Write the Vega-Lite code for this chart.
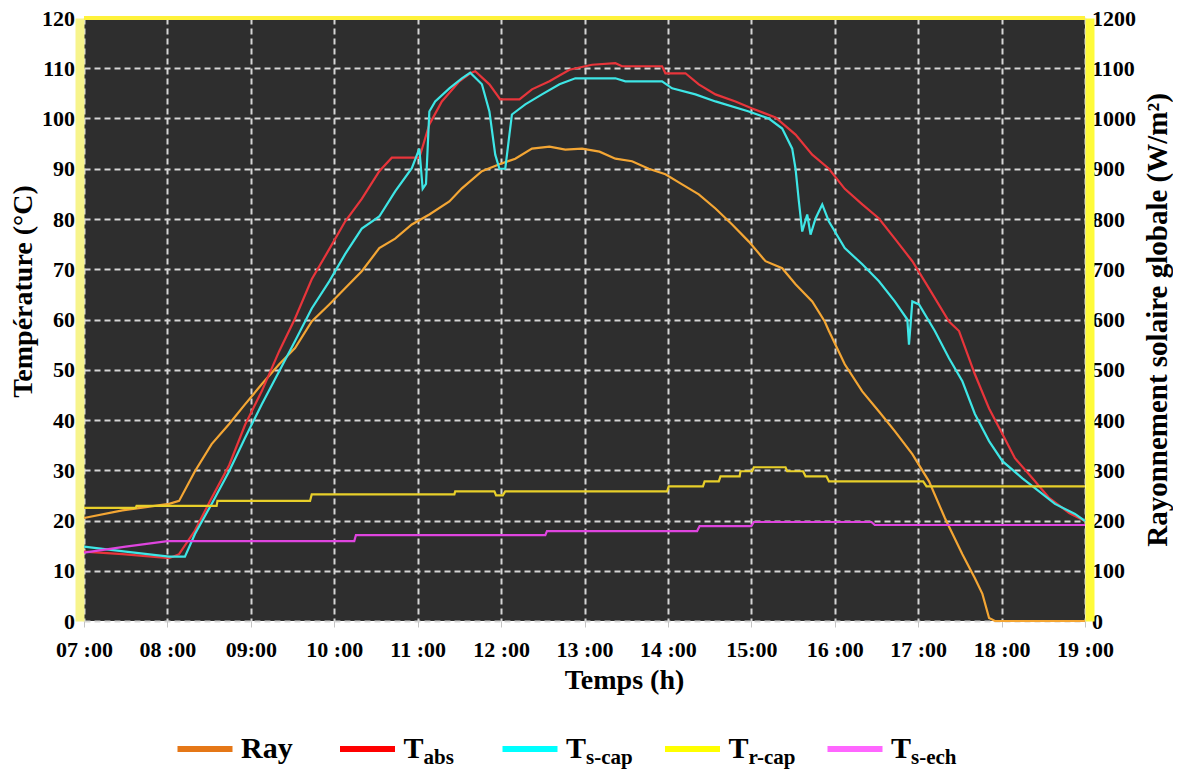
{
  "$schema": "https://vega.github.io/schema/vega-lite/v6.json",
  "background": "white",
  "padding": {"left": 9, "top": 7, "right": 0, "bottom": 0},
  "config": {"font": "Liberation Serif", "view": {"stroke": null}, "concat": {"spacing": 30}},
  "datasets": {
    "ray": [
      {"t": 7.00, "ray": 205}, {"t": 7.46, "ray": 220}, {"t": 8.02, "ray": 233}, {"t": 8.14, "ray": 239},
      {"t": 8.33, "ray": 298}, {"t": 8.53, "ray": 352}, {"t": 8.74, "ray": 392}, {"t": 8.93, "ray": 431},
      {"t": 9.13, "ray": 471}, {"t": 9.34, "ray": 511}, {"t": 9.53, "ray": 543}, {"t": 9.73, "ray": 596},
      {"t": 9.94, "ray": 630}, {"t": 10.13, "ray": 662}, {"t": 10.33, "ray": 696}, {"t": 10.54, "ray": 742},
      {"t": 10.73, "ray": 761}, {"t": 10.93, "ray": 789}, {"t": 11.14, "ray": 809}, {"t": 11.38, "ray": 835},
      {"t": 11.53, "ray": 861}, {"t": 11.77, "ray": 895}, {"t": 11.98, "ray": 909}, {"t": 12.17, "ray": 920},
      {"t": 12.37, "ray": 940}, {"t": 12.58, "ray": 944}, {"t": 12.77, "ray": 938}, {"t": 12.97, "ray": 940},
      {"t": 13.18, "ray": 934}, {"t": 13.37, "ray": 920}, {"t": 13.57, "ray": 915}, {"t": 13.77, "ray": 900},
      {"t": 13.97, "ray": 889}, {"t": 14.17, "ray": 869}, {"t": 14.37, "ray": 849}, {"t": 14.57, "ray": 821},
      {"t": 14.77, "ray": 789}, {"t": 14.97, "ray": 755}, {"t": 15.17, "ray": 716}, {"t": 15.37, "ray": 702},
      {"t": 15.53, "ray": 670}, {"t": 15.73, "ray": 636}, {"t": 15.88, "ray": 596}, {"t": 15.93, "ray": 577},
      {"t": 16.12, "ray": 511}, {"t": 16.33, "ray": 457}, {"t": 16.53, "ray": 417}, {"t": 16.72, "ray": 378},
      {"t": 16.93, "ray": 332}, {"t": 17.13, "ray": 278}, {"t": 17.32, "ray": 205}, {"t": 17.53, "ray": 133},
      {"t": 17.68, "ray": 85}, {"t": 17.77, "ray": 54}, {"t": 17.85, "ray": 6}, {"t": 17.92, "ray": 0},
      {"t": 19.00, "ray": 0}
    ],
    "temps": [
      {"t": 7.00, "s": "Tabs", "v": 13.8}, {"t": 7.46, "s": "Tabs", "v": 13.3}, {"t": 8.02, "s": "Tabs", "v": 12.5},
      {"t": 8.14, "s": "Tabs", "v": 13.3}, {"t": 8.33, "s": "Tabs", "v": 18}, {"t": 8.53, "s": "Tabs", "v": 24.5},
      {"t": 8.74, "s": "Tabs", "v": 31}, {"t": 8.93, "s": "Tabs", "v": 39}, {"t": 9.13, "s": "Tabs", "v": 45.7},
      {"t": 9.34, "s": "Tabs", "v": 53.7}, {"t": 9.53, "s": "Tabs", "v": 60.2}, {"t": 9.73, "s": "Tabs", "v": 68},
      {"t": 9.94, "s": "Tabs", "v": 74}, {"t": 10.13, "s": "Tabs", "v": 79.5}, {"t": 10.33, "s": "Tabs", "v": 84},
      {"t": 10.54, "s": "Tabs", "v": 89.5}, {"t": 10.69, "s": "Tabs", "v": 92.2}, {"t": 11.02, "s": "Tabs", "v": 92.2},
      {"t": 11.14, "s": "Tabs", "v": 98.8}, {"t": 11.29, "s": "Tabs", "v": 103.4}, {"t": 11.50, "s": "Tabs", "v": 107.4},
      {"t": 11.63, "s": "Tabs", "v": 109}, {"t": 11.69, "s": "Tabs", "v": 109.4}, {"t": 11.86, "s": "Tabs", "v": 106.8},
      {"t": 11.99, "s": "Tabs", "v": 103.8}, {"t": 12.22, "s": "Tabs", "v": 103.8}, {"t": 12.37, "s": "Tabs", "v": 105.8},
      {"t": 12.58, "s": "Tabs", "v": 107.4}, {"t": 12.82, "s": "Tabs", "v": 109.7}, {"t": 13.09, "s": "Tabs", "v": 110.7},
      {"t": 13.37, "s": "Tabs", "v": 111}, {"t": 13.45, "s": "Tabs", "v": 110.4}, {"t": 13.93, "s": "Tabs", "v": 110.4},
      {"t": 13.97, "s": "Tabs", "v": 109}, {"t": 14.21, "s": "Tabs", "v": 109}, {"t": 14.37, "s": "Tabs", "v": 106.8},
      {"t": 14.57, "s": "Tabs", "v": 104.8}, {"t": 14.81, "s": "Tabs", "v": 103.4}, {"t": 15.01, "s": "Tabs", "v": 102},
      {"t": 15.29, "s": "Tabs", "v": 100.2}, {"t": 15.53, "s": "Tabs", "v": 96.8}, {"t": 15.73, "s": "Tabs", "v": 92.8},
      {"t": 15.93, "s": "Tabs", "v": 90}, {"t": 16.12, "s": "Tabs", "v": 86}, {"t": 16.33, "s": "Tabs", "v": 82.9},
      {"t": 16.53, "s": "Tabs", "v": 80.1}, {"t": 16.72, "s": "Tabs", "v": 76.1}, {"t": 16.93, "s": "Tabs", "v": 71.6},
      {"t": 17.13, "s": "Tabs", "v": 66.2}, {"t": 17.37, "s": "Tabs", "v": 59.6}, {"t": 17.49, "s": "Tabs", "v": 57.7},
      {"t": 17.68, "s": "Tabs", "v": 49.1}, {"t": 17.85, "s": "Tabs", "v": 42.3}, {"t": 18.01, "s": "Tabs", "v": 37.2},
      {"t": 18.16, "s": "Tabs", "v": 32.4}, {"t": 18.37, "s": "Tabs", "v": 28.4}, {"t": 18.57, "s": "Tabs", "v": 24.5},
      {"t": 18.81, "s": "Tabs", "v": 21.5}, {"t": 19.00, "s": "Tabs", "v": 19.9},

      {"t": 7.00, "s": "Ts-cap", "v": 14.8}, {"t": 7.50, "s": "Ts-cap", "v": 13.8}, {"t": 8.02, "s": "Ts-cap", "v": 12.8},
      {"t": 8.21, "s": "Ts-cap", "v": 12.8}, {"t": 8.33, "s": "Ts-cap", "v": 17.3}, {"t": 8.53, "s": "Ts-cap", "v": 23.3},
      {"t": 8.74, "s": "Ts-cap", "v": 29.8}, {"t": 8.93, "s": "Ts-cap", "v": 36.4}, {"t": 9.13, "s": "Ts-cap", "v": 43.1},
      {"t": 9.34, "s": "Ts-cap", "v": 49.7}, {"t": 9.53, "s": "Ts-cap", "v": 55.7}, {"t": 9.73, "s": "Ts-cap", "v": 62.2},
      {"t": 9.94, "s": "Ts-cap", "v": 67.6}, {"t": 10.13, "s": "Ts-cap", "v": 73}, {"t": 10.33, "s": "Ts-cap", "v": 78.1},
      {"t": 10.54, "s": "Ts-cap", "v": 80.5}, {"t": 10.73, "s": "Ts-cap", "v": 85.5}, {"t": 10.93, "s": "Ts-cap", "v": 90.1},
      {"t": 11.02, "s": "Ts-cap", "v": 94}, {"t": 11.06, "s": "Ts-cap", "v": 86}, {"t": 11.10, "s": "Ts-cap", "v": 87},
      {"t": 11.14, "s": "Ts-cap", "v": 101.4}, {"t": 11.21, "s": "Ts-cap", "v": 103.4}, {"t": 11.38, "s": "Ts-cap", "v": 106},
      {"t": 11.53, "s": "Ts-cap", "v": 108}, {"t": 11.63, "s": "Ts-cap", "v": 109.1}, {"t": 11.77, "s": "Ts-cap", "v": 106.8},
      {"t": 11.86, "s": "Ts-cap", "v": 101.4}, {"t": 11.93, "s": "Ts-cap", "v": 92.8}, {"t": 11.98, "s": "Ts-cap", "v": 90},
      {"t": 12.05, "s": "Ts-cap", "v": 90}, {"t": 12.10, "s": "Ts-cap", "v": 96.8}, {"t": 12.13, "s": "Ts-cap", "v": 100.8},
      {"t": 12.29, "s": "Ts-cap", "v": 102.8}, {"t": 12.49, "s": "Ts-cap", "v": 104.8}, {"t": 12.70, "s": "Ts-cap", "v": 106.8},
      {"t": 12.89, "s": "Ts-cap", "v": 108}, {"t": 13.37, "s": "Ts-cap", "v": 108}, {"t": 13.49, "s": "Ts-cap", "v": 107.4},
      {"t": 13.93, "s": "Ts-cap", "v": 107.4}, {"t": 14.05, "s": "Ts-cap", "v": 106}, {"t": 14.33, "s": "Ts-cap", "v": 104.8},
      {"t": 14.57, "s": "Ts-cap", "v": 103.4}, {"t": 14.97, "s": "Ts-cap", "v": 101.4}, {"t": 15.21, "s": "Ts-cap", "v": 100},
      {"t": 15.37, "s": "Ts-cap", "v": 98}, {"t": 15.49, "s": "Ts-cap", "v": 94}, {"t": 15.53, "s": "Ts-cap", "v": 90},
      {"t": 15.57, "s": "Ts-cap", "v": 83.5}, {"t": 15.61, "s": "Ts-cap", "v": 77.5}, {"t": 15.67, "s": "Ts-cap", "v": 80.9},
      {"t": 15.71, "s": "Ts-cap", "v": 76.9}, {"t": 15.77, "s": "Ts-cap", "v": 80.1}, {"t": 15.85, "s": "Ts-cap", "v": 82.9},
      {"t": 15.93, "s": "Ts-cap", "v": 79.5}, {"t": 16.12, "s": "Ts-cap", "v": 74.2}, {"t": 16.33, "s": "Ts-cap", "v": 71},
      {"t": 16.53, "s": "Ts-cap", "v": 67.6}, {"t": 16.72, "s": "Ts-cap", "v": 63.6}, {"t": 16.87, "s": "Ts-cap", "v": 60},
      {"t": 16.89, "s": "Ts-cap", "v": 55}, {"t": 16.93, "s": "Ts-cap", "v": 63.6}, {"t": 17.01, "s": "Ts-cap", "v": 63},
      {"t": 17.20, "s": "Ts-cap", "v": 57.7}, {"t": 17.37, "s": "Ts-cap", "v": 52.3}, {"t": 17.53, "s": "Ts-cap", "v": 47.7},
      {"t": 17.68, "s": "Ts-cap", "v": 41.2}, {"t": 17.85, "s": "Ts-cap", "v": 35.8}, {"t": 18.01, "s": "Ts-cap", "v": 31.8},
      {"t": 18.25, "s": "Ts-cap", "v": 28.4}, {"t": 18.45, "s": "Ts-cap", "v": 25.8}, {"t": 18.64, "s": "Ts-cap", "v": 23.3},
      {"t": 18.88, "s": "Ts-cap", "v": 21.3}, {"t": 19.00, "s": "Ts-cap", "v": 19.9},

      {"t": 7.00, "s": "Tr-cap", "v": 22.5}, {"t": 7.62, "s": "Tr-cap", "v": 22.5}, {"t": 7.63, "s": "Tr-cap", "v": 22.9},
      {"t": 8.59, "s": "Tr-cap", "v": 22.9}, {"t": 8.60, "s": "Tr-cap", "v": 23.9}, {"t": 9.71, "s": "Tr-cap", "v": 23.9},
      {"t": 9.73, "s": "Tr-cap", "v": 25.2}, {"t": 11.44, "s": "Tr-cap", "v": 25.2}, {"t": 11.45, "s": "Tr-cap", "v": 25.8},
      {"t": 11.92, "s": "Tr-cap", "v": 25.8}, {"t": 11.94, "s": "Tr-cap", "v": 25.0}, {"t": 12.02, "s": "Tr-cap", "v": 25.0},
      {"t": 12.05, "s": "Tr-cap", "v": 25.8}, {"t": 13.99, "s": "Tr-cap", "v": 25.8}, {"t": 14.01, "s": "Tr-cap", "v": 26.8},
      {"t": 14.42, "s": "Tr-cap", "v": 26.8}, {"t": 14.44, "s": "Tr-cap", "v": 27.8}, {"t": 14.61, "s": "Tr-cap", "v": 27.8},
      {"t": 14.63, "s": "Tr-cap", "v": 28.8}, {"t": 14.86, "s": "Tr-cap", "v": 28.8}, {"t": 14.87, "s": "Tr-cap", "v": 29.8},
      {"t": 15.01, "s": "Tr-cap", "v": 29.8}, {"t": 15.03, "s": "Tr-cap", "v": 30.6}, {"t": 15.41, "s": "Tr-cap", "v": 30.6},
      {"t": 15.43, "s": "Tr-cap", "v": 29.8}, {"t": 15.62, "s": "Tr-cap", "v": 29.8}, {"t": 15.65, "s": "Tr-cap", "v": 28.8},
      {"t": 15.90, "s": "Tr-cap", "v": 28.8}, {"t": 15.93, "s": "Tr-cap", "v": 27.8}, {"t": 17.06, "s": "Tr-cap", "v": 27.8},
      {"t": 17.10, "s": "Tr-cap", "v": 26.8}, {"t": 19.00, "s": "Tr-cap", "v": 26.8},

      {"t": 7.00, "s": "Ts-ech", "v": 13.6}, {"t": 7.50, "s": "Ts-ech", "v": 14.8}, {"t": 8.00, "s": "Ts-ech", "v": 15.9},
      {"t": 10.24, "s": "Ts-ech", "v": 15.9}, {"t": 10.26, "s": "Ts-ech", "v": 17.1}, {"t": 12.53, "s": "Ts-ech", "v": 17.1},
      {"t": 12.55, "s": "Ts-ech", "v": 17.9}, {"t": 14.35, "s": "Ts-ech", "v": 17.9}, {"t": 14.38, "s": "Ts-ech", "v": 18.9},
      {"t": 15.00, "s": "Ts-ech", "v": 18.9}, {"t": 15.03, "s": "Ts-ech", "v": 19.7}, {"t": 16.44, "s": "Ts-ech", "v": 19.7},
      {"t": 16.48, "s": "Ts-ech", "v": 19.1}, {"t": 19.00, "s": "Ts-ech", "v": 19.1}
    ],
    "legend": [
      {"item": "Ray", "main": "Ray", "sub": ""},
      {"item": "Tabs", "main": "T", "sub": "abs"},
      {"item": "Ts-cap", "main": "T", "sub": "s-cap"},
      {"item": "Tr-cap", "main": "T", "sub": "r-cap"},
      {"item": "Ts-ech", "main": "T", "sub": "s-ech"}
    ]
  },
  "resolve": {"scale": {"color": "independent", "x": "independent", "y": "independent"}},
  "vconcat": [
    {
      "width": 1001,
      "height": 603,
      "view": {"fill": "#2e2e2e", "stroke": null},
      "resolve": {"scale": {"y": "independent"}},
      "layer": [
        {
          "data": {"name": "ray"},
          "mark": {"type": "line", "color": "#f4a634", "strokeWidth": 2.2},
          "encoding": {
            "x": {
              "field": "t", "type": "quantitative",
              "scale": {"domain": [7, 19], "nice": false, "zero": false},
              "axis": {
                "values": [7, 8, 9, 10, 11, 12, 13, 14, 15, 16, 17, 18, 19],
                "labelExpr": "['07 :00','08 :00','09:00','10 :00','11 :00','12 :00','13 :00','14 :00','15:00','16 :00','17 :00','18 :00','19 :00'][round(datum.value) - 7]",
                "grid": true, "gridColor": "#d6d6d6", "gridDash": [6, 4], "gridWidth": 2,
                "domain": false,
                "ticks": true, "tickColor": "#c4c4c4", "tickSize": 6, "tickWidth": 1,
                "labelFont": "Liberation Serif", "labelFontWeight": "bold", "labelFontSize": 22, "labelColor": "#000",
                "labelPadding": 12, "labelOverlap": false, "labelFlush": false,
                "title": "Temps (h)", "titleFont": "Liberation Serif", "titleFontWeight": "bold", "titleFontSize": 28,
                "titleColor": "#000", "titlePadding": 6, "titleX": 540
              }
            },
            "y": {
              "field": "ray", "type": "quantitative",
              "scale": {"domain": [0, 1200], "nice": false},
              "axis": {
                "orient": "right",
                "values": [0, 100, 200, 300, 400, 500, 600, 700, 800, 900, 1000, 1100, 1200],
                "format": "d",
                "grid": false, "ticks": false,
                "domain": true, "domainColor": "#fffb3a", "domainWidth": 9, "offset": 4.5,
                "labelFont": "Liberation Serif", "labelFontWeight": "bold", "labelFontSize": 22, "labelColor": "#000",
                "labelPadding": 2, "labelOverlap": false,
                "title": "Rayonnement  solaire globale (W/m²)", "titleAngle": 270, "titleBaseline": "top",
                "titleFont": "Liberation Serif", "titleFontWeight": "bold", "titleFontSize": 29, "titleColor": "#000",
                "titlePadding": 8
              }
            }
          }
        },
        {
          "data": {"name": "temps"},
          "layer": [
            {
              "mark": {"type": "line", "strokeWidth": 2.2},
              "encoding": {
                "x": {"field": "t", "type": "quantitative"},
                "y": {
                  "field": "v", "type": "quantitative",
                  "scale": {"domain": [0, 120], "nice": false},
                  "axis": {
                    "orient": "left",
                    "values": [0, 10, 20, 30, 40, 50, 60, 70, 80, 90, 100, 110, 120],
                    "grid": true, "gridColor": "#d6d6d6", "gridDash": [6, 4], "gridWidth": 2,
                    "ticks": false,
                    "domain": true, "domainColor": "#f7f48c", "domainWidth": 9, "offset": 4.5,
                    "labelFont": "Liberation Serif", "labelFontWeight": "bold", "labelFontSize": 22, "labelColor": "#000",
                    "labelPadding": 5, "labelOverlap": false,
                    "title": "Température (°C)", "titleFont": "Liberation Serif", "titleFontWeight": "bold",
                    "titleFontSize": 28, "titleColor": "#000", "titlePadding": 4, "titleY": 273
                  }
                },
                "color": {
                  "field": "s", "type": "nominal",
                  "scale": {"domain": ["Tabs", "Ts-cap", "Tr-cap", "Ts-ech"], "range": ["#e8353b", "#3ee6e6", "#e8cf2a", "#df45df"]},
                  "legend": null
                }
              }
            },
            {
              "mark": {"type": "rule", "color": "#fff23a", "strokeWidth": 4},
              "encoding": {"y": {"datum": 120, "type": "quantitative"}}
            }
          ]
        }
      ]
    },
    {
      "width": 1000,
      "height": 50,
      "view": {"stroke": null, "fill": null},
      "data": {"name": "legend"},
      "encoding": {
        "x": {
          "field": "item", "type": "nominal", "sort": null,
          "scale": {"type": "point", "domain": ["Ray", "Tabs", "Ts-cap", "Tr-cap", "Ts-ech"], "range": [121, 771], "padding": 0},
          "axis": null
        }
      },
      "layer": [
        {
          "mark": {"type": "point", "shape": "stroke", "size": 3025, "strokeWidth": 6, "filled": false, "opacity": 1},
          "encoding": {
            "color": {
              "field": "item", "type": "nominal",
              "scale": {"domain": ["Ray", "Tabs", "Ts-cap", "Tr-cap", "Ts-ech"], "range": ["#e57717", "#ff0000", "#00ffff", "#ffff00", "#ff66ff"]},
              "legend": null
            }
          }
        },
        {
          "mark": {"type": "text", "align": "left", "dx": 36, "fontSize": 30, "fontWeight": "bold", "font": "Liberation Serif", "color": "#000"},
          "encoding": {"text": {"field": "main"}}
        },
        {
          "mark": {"type": "text", "align": "left", "dx": 56, "dy": 9, "fontSize": 21, "fontWeight": "bold", "font": "Liberation Serif", "color": "#000"},
          "encoding": {"text": {"field": "sub"}}
        }
      ]
    }
  ]
}
